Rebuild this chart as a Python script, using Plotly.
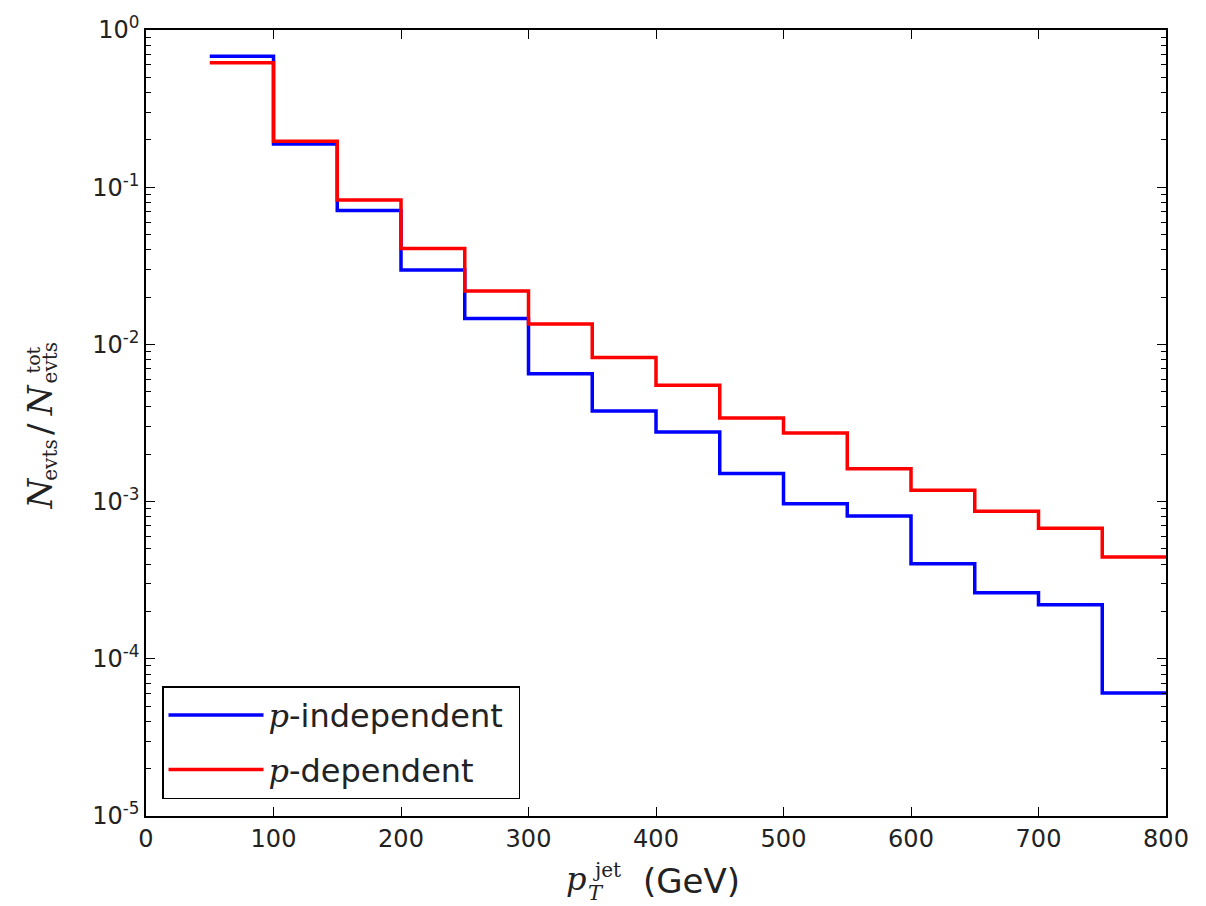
import plotly.graph_objects as go

# Jet pT bin edges (GeV) and normalised event fractions per bin
bin_edges = [50, 100, 150, 200, 250, 300, 350, 400, 450, 500, 550, 600, 650, 700, 750, 800]
p_independent = [0.68, 0.188, 0.071, 0.0297, 0.0146, 0.0065, 0.00377, 0.00277, 0.00151,
                 0.00097, 0.00081, 0.000402, 0.000263, 0.000221, 0.0000607]
p_dependent = [0.62, 0.196, 0.083, 0.0408, 0.0219, 0.0135, 0.00826, 0.0055, 0.0034,
               0.00273, 0.00162, 0.00118, 0.000867, 0.000677, 0.000444]

y_tickvals = [1, 1e-1, 1e-2, 1e-3, 1e-4, 1e-5]
y_ticktext = ["10<sup>0</sup>", "10<sup>-1</sup>", "10<sup>-2</sup>", "10<sup>-3</sup>",
              "10<sup>-4</sup>", "10<sup>-5</sup>"]
x_tickvals = [0, 100, 200, 300, 400, 500, 600, 700, 800]

SERIF = "DejaVu Serif"
SANS = "DejaVu Sans"
INK = "#222"

# Plot-area geometry in pixels, used to place the composed axis titles
W, H = 1206, 906
L, R, T, B = 146, 40, 24, 90
PW, PH = W - L - R, H - T - B


def px(x):
    return (x - L) / PW


def py(y):
    return (H - B - y) / PH


fig = go.Figure()
for i, (name, vals, color) in enumerate([
    ("<span style='font-family:DejaVu Serif'><i>p</i></span>-independent&nbsp;", p_independent, "#0000ff"),
    ("<span style='font-family:DejaVu Serif'><i>p</i></span>-dependent", p_dependent, "#ff0000"),
]):
    fig.add_trace(go.Scatter(
        x=bin_edges, y=vals + [vals[-1]], mode="lines", name=name,
        legendgroup=f"g{i}",
        line=dict(color=color, width=3.5, shape="hv"),
    ))

axis_common = dict(
    showline=True, linecolor="black", linewidth=1.5, mirror="ticks",
    ticks="inside", tickcolor="black", tickwidth=1, ticklen=9,
    showgrid=False, zeroline=False,
    tickfont=dict(family=SANS, size=24, color=INK),
)

fig.update_xaxes(range=[0, 800], tickvals=x_tickvals, **axis_common)
fig.update_yaxes(
    type="log", range=[-5, 0], tickvals=y_tickvals, ticktext=y_ticktext,
    minor=dict(ticks="inside", ticklen=5, tickcolor="black", tickwidth=1, dtick="D1"),
    **axis_common,
)

fig.update_layout(
    width=W, height=H,
    margin=dict(l=L, r=R, t=T, b=B),
    plot_bgcolor="white", paper_bgcolor="white",
    showlegend=True,
    legend=dict(
        x=px(162), y=py(799), xanchor="left", yanchor="bottom",
        bgcolor="white", bordercolor="black", borderwidth=1.5,
        font=dict(family=SANS, size=32, color=INK),
        itemwidth=95, tracegroupgap=10,
    ),
)


def label(text, x, y, size, family=SERIF, angle=0):
    fig.add_annotation(
        xref="paper", yref="paper", x=px(x), y=py(y),
        xanchor="center", yanchor="middle", textangle=angle,
        text=text, showarrow=False,
        font=dict(family=family, size=size, color=INK),
    )


# x-axis title: p_T^jet (GeV), with stacked sub/superscript
label("<i>p</i>", 576, 879, 32)
label("<i>T</i>", 596, 894, 21)
label("jet", 607, 870, 20)
label("(GeV)", 691, 881, 34, family=SANS)

# y-axis title: N_evts / N_evts^tot, rotated
label("<i>N</i>", 40, 491, 34, angle=-90)
label("evts", 50, 458, 20, angle=-90)
label("/", 40, 426, 34, angle=-90)
label("<i>N</i>", 40, 397, 34, angle=-90)
label("tot", 33, 357, 19, angle=-90)
label("evts", 50, 360, 20, angle=-90)

fig.write_html("out.html")
